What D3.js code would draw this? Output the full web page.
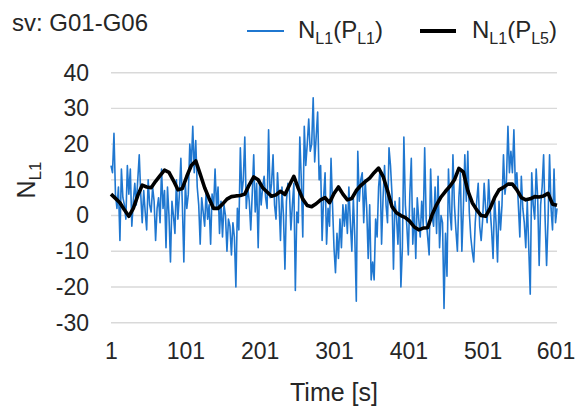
<!DOCTYPE html>
<html>
<head>
<meta charset="utf-8">
<script src="https://cdn.jsdelivr.net/npm/d3@7"></script>
<style>
  body { margin: 0; background: #fff; }
  text { font-family: "Liberation Sans", Arial, sans-serif; fill: #262626; }
</style>
</head>
<body>
<script>
// tick labels
var xTicks = [1, 101, 201, 301, 401, 501, 601];
var yTicks = [-30, -20, -10, 0, 10, 20, 30, 40];

// N_L1(P_L1), one value every 2 s (1, 3, 5, ... 601)
var blueStep = 2;
var blueVals = [
  14, 12, 23, 6, 2, 8, -7, 13, 5, 3,
  -1, 14, 6, 13, -3, 4, 9, 3, 10, 17,
  6, -2, 7, 1, -4, 10, 3, 1, 8, 4,
  -7, 2, 5, -2, 13, 2, 7, -9, 8, 0,
  -13, 4, 0, -5, 10, -1, 6, 16, 3, -13,
  9, 2, 6, 20, 14, 25, 12, 21, 8, 3,
  -8, 5, 1, -3, 7, -1, 3, -8, 6, 2,
  13, 2, 8, -5, 4, -6, 3, 0, -10, -1,
  -3, -11, -2, -6, -20, 2, -4, 19, 6, 10,
  22, 2, 8, 4, -4, 6, 17, 1, 9, -9,
  10, 3, 8, 11, 5, 2, 24, 5, 9, 17,
  3, -1, 12, 4, -7, 8, 0, -15, 4, 9,
  7, -4, 3, 9, -21, 1, -2, 22, 10, -6,
  25, 14, 20, 27, 18, 20, 33, 15, 22, 29,
  10, 14, -7, 5, 12, -8, 2, -3, 16, 3,
  -9, -16, -5, -12, -1, -9, 3, -3, 3, -5,
  8, -2, -10, 5, -6, -24, 18, 4, 10, 12,
  -2, 10, 2, -12, 3, -18, -13, -18, -1, -6,
  8, 13, -8, 5, 14, 3, -2, 19, 14, 6,
  -15, 4, 0, -8, 5, -20, -9, 22, 3, -3,
  -11, 6, 16, -8, 2, -12, 5, -1, -6, 4,
  -3, 19, -1, -6, -11, 13, 0, -3, 8, -5,
  11, -9, 0, -2, -26, -5, -17, 13, 1, -4,
  17, 3, -4, -10, 5, 12, -10, 2, 17, 4,
  18, 1, -6, -10, -13, -2, 4, 9, -3, -7,
  -1, 9, 2, -2, 10, 2, -4, -12, 5, -2,
  -13, 4, -4, 3, 17, 6, 10, 25, 12, 18,
  12, 24, 8, 12, 3, -6, 11, 2, -2, -9,
  4, -9, -22, 12, 3, -1, 13, 5, -14, 3,
  8, 17, -1, -14, -1, 17, 2, -4, 13, -2,
  2
];

// N_L1(P_L5), one value every 6 s (1, 7, 13, ... 601)
var blackStep = 6;
var blackVals = [
  6.0, 4.8, 3.6, 1.6, -0.2, 2.0, 5.6, 8.5, 8.0, 7.8,
  9.6, 11.2, 12.7, 12.1, 9.8, 7.2, 7.6, 11.0, 14.0, 15.3,
  11.6, 7.8, 4.8, 2.0, 2.0, 3.2, 4.6, 5.3, 5.5, 5.6,
  6.0, 8.6, 10.8, 10.0, 7.8, 6.6, 5.4, 5.8, 6.8, 5.9,
  8.5, 11.0, 7.6, 4.6, 2.8, 2.5, 3.3, 4.4, 5.0, 3.6,
  6.2, 8.0, 6.0, 4.4, 4.8, 7.0, 8.4, 9.5, 10.5, 12.0,
  13.3, 11.0, 7.0, 2.5, 0.8, 0.0, -0.6, -1.6, -3.2, -4.0,
  -3.5, -3.4, 0.2, 3.0, 5.2, 6.8, 8.2, 10.0, 13.2, 12.2,
  7.0, 3.6, 1.6, 0.0, -0.2, 2.0, 5.0, 7.2, 7.9, 8.8,
  8.8, 7.2, 5.0, 4.4, 4.7, 5.3, 5.2, 5.5, 6.2, 3.2,
  2.9
];

var W = 576, H = 409;
var svg = d3.select("body").append("svg")
  .attr("width", W)
  .attr("height", H);

var x = d3.scaleLinear().domain([1, 601]).range([111, 557]);
var y = d3.scaleLinear().domain([-30, 40]).range([322.7, 72.7]);

// gridlines
svg.append("g")
  .selectAll("line")
  .data(yTicks)
  .enter()
  .append("line")
  .attr("x1", 111)
  .attr("x2", 557)
  .attr("y1", function(d) { return y(d); })
  .attr("y2", function(d) { return y(d); })
  .attr("stroke", "#d9d9d9")
  .attr("stroke-width", 1.4);

// axes
var xAxis = svg.append("g")
  .attr("transform", "translate(0," + y(-30) + ")")
  .call(d3.axisBottom(x).tickValues(xTicks).tickSize(0).tickPadding(20));
var yAxis = svg.append("g")
  .attr("transform", "translate(111,0)")
  .call(d3.axisLeft(y).tickValues(yTicks).tickSize(0).tickPadding(22)
    .tickFormat(function(d) { return String(d); }));
[xAxis, yAxis].forEach(function(a) {
  a.select(".domain").remove();
  a.selectAll("text")
    .style("font-family", "'Liberation Sans', Arial, sans-serif")
    .style("font-size", "23px")
    .attr("fill", "#262626");
});
// last label sits against the right edge
xAxis.selectAll(".tick text")
  .filter(function(d) { return d === 601; })
  .attr("dx", -1.5);

// lines
var blueData = blueVals.map(function(v, i) { return [1 + i * blueStep, v]; });
var blackData = blackVals.map(function(v, i) { return [1 + i * blackStep, v]; });
var line = d3.line()
  .x(function(d) { return x(d[0]); })
  .y(function(d) { return y(d[1]); });

svg.append("path")
  .datum(blueData)
  .attr("d", line)
  .attr("fill", "none")
  .attr("stroke", "#1f77d0")
  .attr("stroke-width", 1.6)
  .attr("stroke-linejoin", "round");

svg.append("path")
  .datum(blackData)
  .attr("d", line)
  .attr("fill", "none")
  .attr("stroke", "#000")
  .attr("stroke-width", 3.6)
  .attr("stroke-linejoin", "round");

// text with subscripts
function subText(g, parts, xx, yy, size) {
  var t = g.append("text")
    .attr("x", xx)
    .attr("y", yy)
    .style("font-size", size + "px");
  parts.forEach(function(p, i) {
    var prevSub = i > 0 && parts[i - 1][1];
    var ts = t.append("tspan").text(p[0]);
    if (p[1]) {
      ts.style("font-size", Math.round(size * 0.68) + "px").attr("dy", size * 0.25);
    } else if (prevSub) {
      ts.attr("dy", -size * 0.25);
    }
  });
  return t;
}

// title
svg.append("text")
  .attr("x", 12)
  .attr("y", 31)
  .style("font-size", "24px")
  .text("sv: G01-G06");

// legend
svg.append("line")
  .attr("x1", 247).attr("x2", 284)
  .attr("y1", 31).attr("y2", 31)
  .attr("stroke", "#1f77d0")
  .attr("stroke-width", 2.2);
subText(svg, [["N", false], ["L1", true], ["(P", false], ["L1", true], [")", false]], 298, 38, 24);

svg.append("line")
  .attr("x1", 420).attr("x2", 456)
  .attr("y1", 31).attr("y2", 31)
  .attr("stroke", "#000")
  .attr("stroke-width", 3.8);
subText(svg, [["N", false], ["L1", true], ["(P", false], ["L5", true], [")", false]], 472, 38, 24);

// axis titles
svg.append("text")
  .attr("x", 334)
  .attr("y", 401)
  .attr("text-anchor", "middle")
  .style("font-size", "25px")
  .text("Time [s]");

var yt = subText(svg, [["N", false], ["L1", true]], 0, 0, 25);
yt.attr("text-anchor", "middle")
  .attr("transform", "translate(35,180) rotate(-90)");
</script>
</body>
</html>
